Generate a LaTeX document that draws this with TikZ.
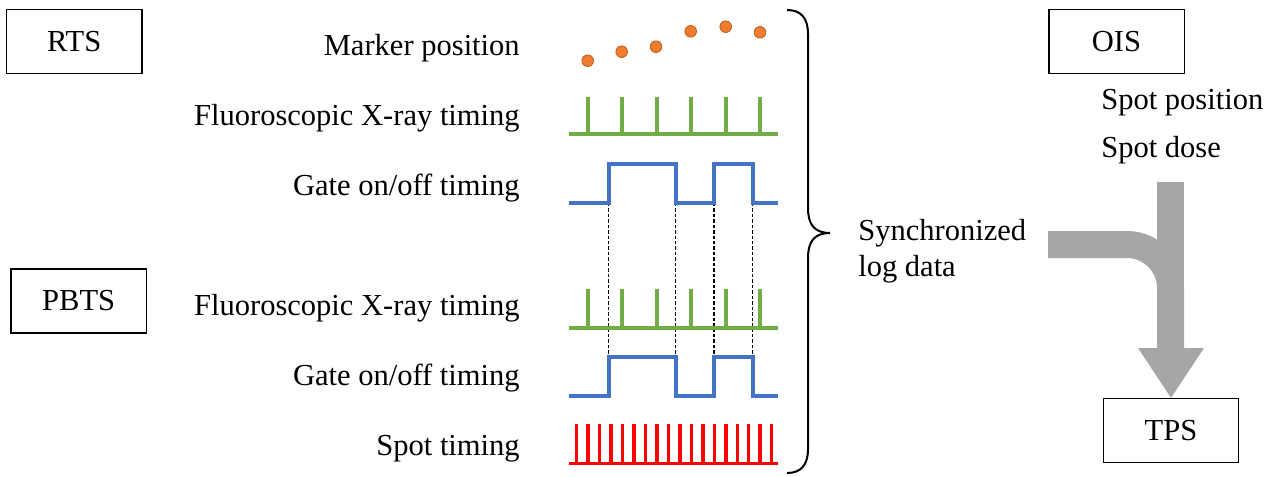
\documentclass[tikz,border=0pt]{standalone}
\usepackage{fontspec}
\setmainfont{Liberation Serif}
\definecolor{markerfill}{RGB}{237,125,49}
\definecolor{markerline}{RGB}{197,90,17}
\definecolor{xraygreen}{RGB}{112,173,71}
\definecolor{gateblue}{RGB}{68,114,196}
\definecolor{spotred}{RGB}{255,0,0}
\definecolor{flowgray}{RGB}{166,166,166}

\begin{document}
\begin{tikzpicture}[x=0.75pt,y=-0.75pt,
  font=\fontsize{22.9pt}{27pt}\selectfont,
  sysbox/.style={draw, line width=1pt, minimum width=101.5pt, minimum height=48pt, inner sep=0pt},
  rowlabel/.style={anchor=base east, inner sep=0pt},
  sidelabel/.style={anchor=base west, inner sep=0pt},
  xray/.style={xraygreen, line width=3pt},
  gate/.style={gateblue, line width=3pt},
  spot/.style={spotred, line width=2.6pt},
  syncline/.style={dash pattern=on 2.6pt off 1.5pt, line width=0.9pt},
  marker/.style={fill=markerfill, draw=markerline, line width=0.6pt},
  flow/.style={fill=flowgray, draw=none},
  curly/.style={line width=1.5pt}
]
\useasboundingbox (0,0) rectangle (1275,476);

% system boxes
\node[sysbox] (rts)  at (74.2,41.3)   {RTS};
\node[sysbox] (pbts) at (78.7,301)    {PBTS};
\node[sysbox] (ois)  at (1116.5,41.3) {OIS};
\node[sysbox] (tps)  at (1171,430.5)  {TPS};

% row labels
\node[rowlabel] (lmark)  at (520,55)  {Marker position};
\node[rowlabel] (lxray1) at (520,125) {Fluoroscopic X-ray timing};
\node[rowlabel] (lgate1) at (520,195) {Gate on/off timing};
\node[rowlabel] (lxray2) at (520,315) {Fluoroscopic X-ray timing};
\node[rowlabel] (lgate2) at (520,385) {Gate on/off timing};
\node[rowlabel] (lspot)  at (520,455) {Spot timing};

% marker positions
\foreach \x/\y in {587.7/60.7, 621.7/51.7, 656/46.7, 690.7/31.3, 725.7/26.7, 760/32.3}
  \path[marker] (\x,\y) circle (5.8);

% gate edges that line up between the two systems (drawn first, under the pulses)
\coordinate (ea1) at (608.5,202.7); \coordinate (eb1) at (608.5,357.3);
\coordinate (ea2) at (675.7,202.7); \coordinate (eb2) at (675.7,357.3);
\coordinate (ea3) at (714,202.7);   \coordinate (eb3) at (714,357.3);
\coordinate (ea4) at (752.7,202.7); \coordinate (eb4) at (752.7,357.3);
\foreach \i in {1,...,4}
  \draw[syncline] (ea\i) -- (eb\i);

% fluoroscopic X-ray pulses (RTS)
\draw[xray] (569,134.3) -- (778,134.3);
\foreach \x in {587.7,622.1,656.6,691,725.5,760}
  \draw[xray] (\x,134.3) -- (\x,96.7);

% gate signal (RTS)
\draw[gate] (569,202.7) -- (608.5,202.7) -- (608.5,164.3) -- (675.7,164.3)
  -- (675.7,202.7) -- (714,202.7) -- (714,164.3) -- (752.7,164.3)
  -- (752.7,202.7) -- (778,202.7);

% fluoroscopic X-ray pulses (PBTS)
\draw[xray] (569,327.7) -- (778,327.7);
\foreach \x in {587.7,622.1,656.6,691,725.5,760}
  \draw[xray] (\x,327.7) -- (\x,289.3);

% gate signal (PBTS)
\draw[gate] (569,395.7) -- (608.5,395.7) -- (608.5,357.3) -- (675.7,357.3)
  -- (675.7,395.7) -- (714,395.7) -- (714,357.3) -- (752.7,357.3)
  -- (752.7,395.7) -- (778,395.7);

% spot pulses
\draw[spot] (569,463.3) -- (778,463.3);
\foreach \i in {0,...,17}
  \draw[spot] ({576.7+11.47*\i},463.3) -- ++(0,-39);

% curly brace
\draw[curly] (787,10) .. controls (801,10) and (808,18) .. (808,34)
  -- (808,208) .. controls (808,224) and (814,233) .. (830,233)
  .. controls (814,233) and (808,242) .. (808,258)
  -- (808,449) .. controls (808,465) and (801,473) .. (787,473);

% merged data
\node[sidelabel] (sync1) at (858,240) {Synchronized};
\node[sidelabel] (sync2) at (858,276) {log data};

\node[sidelabel] (spos)  at (1101,109) {Spot position};
\node[sidelabel] (sdose) at (1101,157) {Spot dose};

% gray flow arrow into the planning system
\fill[flow] (1157,182) rectangle (1184,349);
\fill[flow] (1048,231) -- (1127,231) arc[start angle=-90, end angle=0, radius=57]
  -- (1184,349) -- (1157,349) -- (1157,288)
  arc[start angle=0, end angle=-90, radius=30] -- (1048,258) -- cycle;
\fill[flow] (1138,348) -- (1204,348) -- (tps.north) -- cycle;
\end{tikzpicture}
\end{document}
